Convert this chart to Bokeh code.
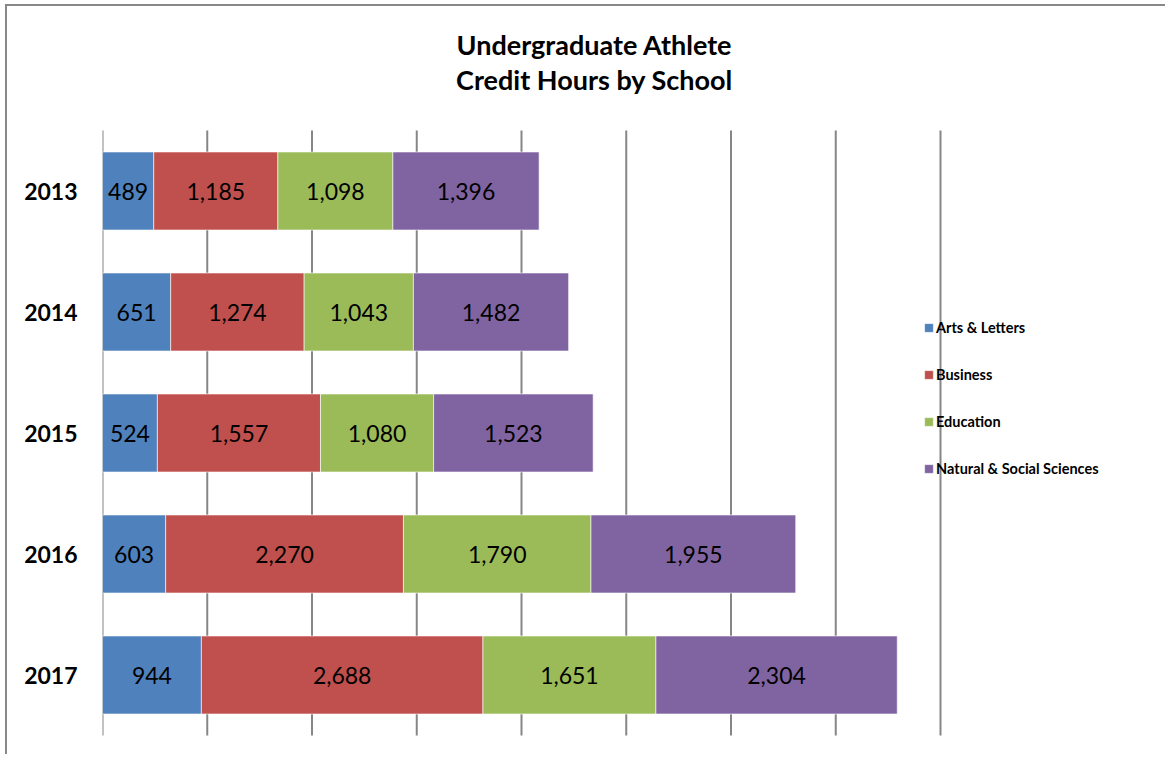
from bokeh.plotting import figure
from bokeh.models import ColumnDataSource, Range1d, FixedTicker, Label, Legend
from bokeh.core.properties import value
from bokeh.embed import file_html
from bokeh.resources import INLINE

years = ["2013", "2014", "2015", "2016", "2017"]
schools = ["Arts & Letters", "Business", "Education", "Natural & Social Sciences"]
arts = [489, 651, 524, 603, 944]
business = [1185, 1274, 1557, 2270, 2688]
education = [1098, 1043, 1080, 1790, 1651]
natsci = [1396, 1482, 1523, 1955, 2304]
colors = ["#4F81BD", "#C0504D", "#9BBB59", "#8064A2"]
title_lines = ["Undergraduate Athlete", "Credit Hours by School"]
grid_values = list(range(0, 8001, 1000))

series = [arts, business, education, natsci]
keys = ["arts", "business", "education", "natsci"]
ypos = list(range(len(years)))

data = {"y": ypos}
for k, s in zip(keys, series):
    data[k] = s
source = ColumnDataSource(data)

# layout constants (page pixels)
CX, CY = 7, 6            # canvas origin on the page
W, H = 1160, 750
PLOT_L, PLOT_R = 102, 940  # x of 0 and 8000
BAND_T, BAND_B = 130, 735  # top/bottom of category bands
xmax = grid_values[-1]
px_per_x = (PLOT_R - PLOT_L) / xmax
px_per_y = (BAND_B - BAND_T) / len(years)
x_end = (CX + W - PLOT_L) / px_per_x
y_top = -0.5 - (BAND_T - CY) / px_per_y
y_bot = len(years) - 0.5 + (CY + H - BAND_B) / px_per_y

p = figure(
    width=W, height=H,
    x_range=Range1d(0, x_end),
    y_range=Range1d(y_bot, y_top),
    x_axis_location=None,
    toolbar_location=None,
    output_backend="svg",
    min_border_left=PLOT_L - CX, min_border_right=0,
    min_border_top=0, min_border_bottom=0,
)
p.styles = {"border-top": "2px solid #888888", "border-left": "2px solid #888888",
            "margin-left": "5px", "margin-top": "4px"}
p.outline_line_color = None
p.background_fill_color = "white"
p.border_fill_color = "white"
p.xgrid.visible = False
p.ygrid.visible = False

# vertical gridlines over the category band area
p.segment(x0=grid_values, x1=grid_values,
          y0=[-0.5] * len(grid_values), y1=[len(years) - 0.5] * len(grid_values),
          line_color="#868686", line_width=2)

renderers = p.hbar_stack(keys, y="y", height=0.645, color=colors, source=source,
                         line_color="white", line_alpha=0.6, line_width=1)

# data labels
lx, ly, lt = [], [], []
for i in range(len(years)):
    start = 0
    for s in series:
        v = s[i]
        lx.append(start + v / 2)
        ly.append(ypos[i])
        lt.append(f"{v:,}")
        start += v
p.text(x=lx, y=ly, text=lt, text_align="center", text_baseline="middle",
       text_font=value("Lato"), text_font_size="23px", text_color="black")

yax = p.yaxis[0]
yax.ticker = FixedTicker(ticks=ypos)
yax.major_label_overrides = {i: yr for i, yr in zip(ypos, years)}
yax.axis_line_color = None
yax.major_tick_line_color = None
yax.minor_tick_line_color = None
yax.major_label_standoff = 19
yax.major_label_text_font = "Lato"
yax.major_label_text_font_style = "bold"
yax.major_label_text_font_size = "23px"
yax.major_label_text_color = "black"

# legend (location relative to frame bottom-left)
frame_bottom = CY + H
legend = Legend(
    items=[(name, [r]) for name, r in zip(schools, renderers)],
    location=(923 - PLOT_L, frame_bottom - 478),
    orientation="vertical",
    glyph_width=11, glyph_height=11, label_standoff=2,
    label_height=20, spacing=27, padding=0, margin=0,
    border_line_color=None, background_fill_alpha=0,
    label_text_font="Lato", label_text_font_style="bold",
    label_text_font_size="14.5px", label_text_color="black",
)
p.add_layout(legend)

for txt, yb in zip(title_lines, [44, 79]):
    p.add_layout(Label(x=594 - PLOT_L, y=frame_bottom - yb, x_units="screen", y_units="screen",
                       text=txt, text_align="center", text_baseline="alphabetic",
                       text_font="Lato", text_font_style="bold",
                       text_font_size="27px", text_color="black"))

open("out.html", "w").write(file_html(p, INLINE))
